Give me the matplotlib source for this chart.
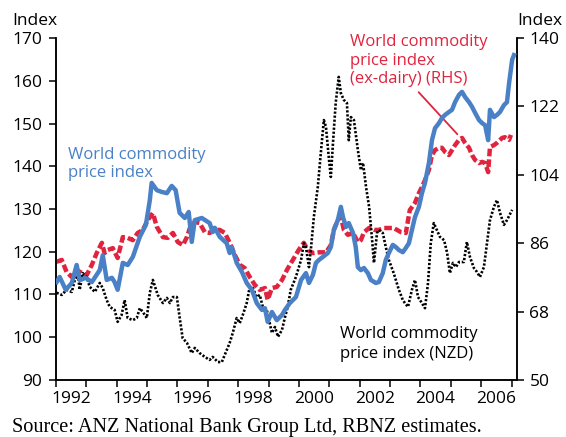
import matplotlib
matplotlib.use('Agg')
import matplotlib.pyplot as plt
import numpy as np

plt.rcParams['font.family'] = ['Open Sans', 'DejaVu Sans']
plt.rcParams['lines.scale_dashes'] = False

# World commodity price index (left axis)
wcpi_t = [1992.02, 1992.12, 1992.32, 1992.52, 1992.68, 1992.78, 1992.98, 1993.18, 1993.44, 1993.54,
          1993.67, 1993.84, 1993.93, 1994.03, 1994.20, 1994.36, 1994.53, 1994.76, 1994.96, 1995.09,
          1995.15, 1995.32, 1995.48, 1995.65, 1995.81, 1995.94, 1996.07, 1996.24, 1996.37, 1996.47,
          1996.57, 1996.80, 1997.06, 1997.16, 1997.23, 1997.39, 1997.62, 1997.72, 1997.79, 1997.95,
          1998.12, 1998.28, 1998.45, 1998.61, 1998.78, 1998.88, 1998.97, 1999.11, 1999.27, 1999.44,
          1999.54, 1999.70, 1999.90, 2000.07, 2000.23, 2000.33, 2000.46, 2000.56, 2000.66, 2000.79,
          2000.95, 2001.05, 2001.15, 2001.28, 2001.38, 2001.45, 2001.55, 2001.64, 2001.78, 2001.87,
          2001.94, 2002.04, 2002.14, 2002.27, 2002.37, 2002.53, 2002.63, 2002.76, 2002.86, 2002.96,
          2003.09, 2003.19, 2003.29, 2003.42, 2003.52, 2003.62, 2003.72, 2003.82, 2003.95, 2004.05,
          2004.15, 2004.28, 2004.38, 2004.48, 2004.61, 2004.71, 2004.81, 2004.94, 2005.04, 2005.14,
          2005.27, 2005.37, 2005.47, 2005.60, 2005.70, 2005.80, 2005.93, 2006.03, 2006.13, 2006.23,
          2006.29, 2006.42, 2006.52, 2006.62, 2006.75, 2006.85, 2006.92, 2007.02, 2007.08]
wcpi = [112.9, 114.1, 111.1, 112.7, 116.9, 113.4, 113.9, 112.9, 115.7, 119.2,
        113.4, 113.9, 112.9, 111.1, 117.4, 116.9, 118.8, 123.5, 126.3, 132.1,
        136.1, 134.4, 134.0, 133.7, 135.4, 134.4, 129.1, 127.9, 129.3, 122.3,
        127.4, 127.9, 126.7, 124.6, 125.6, 123.5, 122.0, 119.7, 121.1, 117.4,
        115.3, 112.7, 111.1, 108.0, 106.4, 106.8, 103.6, 105.9, 104.0, 105.2,
        106.4, 108.0, 109.4, 113.4, 115.0, 112.7, 114.6, 117.4, 118.1, 118.8,
        119.7, 121.1, 125.1, 127.4, 130.5, 128.1, 125.8, 126.7, 124.4, 121.1,
        116.4, 115.7, 116.2, 115.0, 113.4, 112.7, 112.9, 115.0, 118.1, 119.7,
        121.6, 121.1, 120.4, 119.9, 120.9, 122.0, 125.1, 128.1, 130.5, 133.7,
        136.1, 140.8, 146.1, 148.9, 150.1, 151.3, 152.0, 152.7, 153.2, 155.0,
        156.7, 157.4, 156.2, 155.0, 153.9, 152.5, 150.8, 150.1, 149.6, 146.1,
        153.2, 151.5, 152.0, 152.7, 154.3, 155.0, 159.5, 164.9, 166.0]

# World commodity price index ex-dairy (right axis)
exd_t = [1992.02, 1992.19, 1992.35, 1992.52, 1992.68, 1992.85, 1993.01, 1993.18, 1993.34, 1993.51,
         1993.60, 1993.70, 1993.87, 1994.03, 1994.20, 1994.36, 1994.53, 1994.69, 1994.86, 1995.02,
         1995.19, 1995.32, 1995.52, 1995.68, 1995.85, 1996.01, 1996.18, 1996.31, 1996.41, 1996.57,
         1996.73, 1996.90, 1997.06, 1997.23, 1997.39, 1997.56, 1997.72, 1997.89, 1998.05, 1998.21,
         1998.38, 1998.55, 1998.71, 1998.88, 1998.97, 1999.11, 1999.27, 1999.44, 1999.60, 1999.70,
         1999.80, 1999.99, 2000.16, 2000.29, 2000.46, 2000.66, 2000.89, 2001.05, 2001.15, 2001.28,
         2001.38, 2001.48, 2001.61, 2001.78, 2001.94, 2002.04, 2002.14, 2002.31, 2002.47, 2002.63,
         2002.80, 2002.96, 2003.12, 2003.36, 2003.52, 2003.65, 2003.82, 2003.95, 2004.05, 2004.15,
         2004.28, 2004.38, 2004.48, 2004.61, 2004.71, 2004.81, 2004.94, 2005.04, 2005.14, 2005.27,
         2005.37, 2005.47, 2005.60, 2005.70, 2005.80, 2005.93, 2006.03, 2006.13, 2006.23, 2006.29,
         2006.42, 2006.52, 2006.69, 2006.78, 2006.92, 2006.98]
exd = [81.1, 81.6, 78.4, 77.1, 78.9, 78.2, 77.6, 80.3, 83.4, 86.1,
       83.4, 84.2, 84.7, 82.1, 87.6, 87.4, 86.8, 88.7, 89.5, 92.1,
       93.9, 90.3, 87.6, 87.4, 88.7, 86.3, 85.5, 87.6, 90.0, 91.6,
       91.3, 88.9, 88.7, 89.5, 89.5, 88.7, 86.1, 82.9, 80.3, 79.5,
       77.1, 75.0, 73.7, 74.2, 71.1, 74.2, 74.5, 76.3, 78.9, 80.3,
       81.6, 84.2, 86.1, 84.2, 83.4, 83.6, 83.6, 85.5, 89.5, 92.1,
       92.9, 89.5, 88.2, 88.7, 86.3, 86.8, 88.9, 90.0, 89.5, 89.5,
       90.0, 90.0, 90.0, 88.9, 88.7, 94.7, 96.6, 99.2, 100.8, 102.6,
       105.3, 109.2, 110.5, 111.1, 111.1, 110.0, 109.2, 110.5, 111.8, 113.2,
       113.7, 112.4, 111.1, 109.2, 107.9, 107.1, 107.4, 107.1, 104.7, 111.3,
       111.8, 112.4, 113.7, 113.9, 113.2, 114.5]

# World commodity price index in NZD (left axis)
nzd_t = [1992.02, 1992.19, 1992.35, 1992.52, 1992.62, 1992.72, 1992.78, 1992.88, 1993.01, 1993.11,
         1993.28, 1993.44, 1993.54, 1993.67, 1993.77, 1993.93, 1994.03, 1994.16, 1994.26, 1994.36,
         1994.53, 1994.66, 1994.76, 1994.86, 1994.99, 1995.09, 1995.19, 1995.35, 1995.52, 1995.65,
         1995.75, 1995.85, 1995.98, 1996.07, 1996.17, 1996.31, 1996.47, 1996.57, 1996.73, 1996.90,
         1997.06, 1997.16, 1997.33, 1997.46, 1997.62, 1997.72, 1997.82, 1997.95, 1998.05, 1998.15,
         1998.28, 1998.38, 1998.48, 1998.61, 1998.71, 1998.81, 1998.94, 1999.11, 1999.21, 1999.31,
         1999.44, 1999.54, 1999.63, 1999.73, 1999.90, 2000.07, 2000.16, 2000.23, 2000.33, 2000.40,
         2000.49, 2000.62, 2000.72, 2000.82, 2000.89, 2000.99, 2001.05, 2001.12, 2001.21, 2001.31,
         2001.38, 2001.48, 2001.58, 2001.64, 2001.71, 2001.81, 2001.94, 2002.04, 2002.11, 2002.21,
         2002.31, 2002.40, 2002.47, 2002.57, 2002.63, 2002.76, 2002.86, 2002.96, 2003.12, 2003.29,
         2003.42, 2003.49, 2003.59, 2003.72, 2003.82, 2003.92, 2004.05, 2004.15, 2004.25, 2004.34,
         2004.44, 2004.54, 2004.64, 2004.78, 2004.88, 2004.97, 2005.07, 2005.17, 2005.27, 2005.43,
         2005.53, 2005.63, 2005.76, 2005.86, 2005.96, 2006.09, 2006.19, 2006.29, 2006.42, 2006.52,
         2006.62, 2006.75, 2006.85, 2007.02]
nzd = [110.4, 109.9, 111.1, 110.6, 113.4, 114.6, 111.1, 115.0, 114.1, 111.8,
       110.6, 112.7, 111.5, 108.7, 107.1, 106.4, 103.6, 105.2, 108.7, 104.5,
       104.0, 104.5, 106.8, 105.9, 104.5, 110.4, 113.4, 109.9, 108.0, 109.2,
       108.0, 109.4, 109.4, 104.7, 99.8, 98.7, 96.3, 97.5, 96.3, 95.4,
       94.7, 95.4, 94.2, 94.2, 97.0, 98.7, 101.0, 104.5, 103.3, 105.2,
       108.0, 111.8, 111.5, 109.4, 109.9, 107.1, 106.4, 101.0, 102.4, 100.1,
       101.7, 104.7, 107.1, 111.1, 114.1, 118.1, 122.0, 121.1, 116.4, 121.1,
       128.1, 135.1, 143.1, 150.8, 149.2, 141.5, 137.5, 145.4, 154.8, 160.9,
       157.1, 155.5, 154.8, 146.1, 151.5, 150.8, 143.8, 139.1, 140.8, 135.1,
       130.5, 123.5, 117.4, 124.4, 125.1, 124.4, 121.1, 118.1, 115.0, 111.1,
       108.7, 108.0, 107.1, 111.1, 113.4, 109.4, 108.0, 106.8, 112.7, 122.0,
       126.7, 125.1, 123.5, 122.7, 119.7, 115.0, 117.4, 116.4, 117.6, 117.6,
       122.3, 118.8, 116.2, 115.3, 114.1, 116.4, 122.0, 127.4, 130.5, 132.1,
       129.1, 126.3, 127.4, 129.8]

year_ticks = list(range(1992, 2008))
year_labels = ['1992', '1994', '1996', '1998', '2000', '2002', '2004', '2006']
left_ticks = [90, 100, 110, 120, 130, 140, 150, 160, 170]
right_ticks = [50, 68, 86, 104, 122, 140]

BLUE = '#4a80c6'
RED = '#e2233e'
W, H = 566, 437

fig = plt.figure(figsize=(W / 100, H / 100), dpi=100)
ax = fig.add_axes([56 / W, 1 - 380 / H, (517 - 56) / W, (380 - 38) / H])
ax2 = ax.twinx()

ax.plot(nzd_t, nzd, color='black', lw=1.9, dashes=(1.6, 1.3), zorder=2)
ax2.plot(exd_t, exd, color=RED, lw=3.2, dashes=(5.5, 2.2), zorder=3)
ax.plot(wcpi_t, wcpi, color=BLUE, lw=3.2, zorder=4)

ax.set_zorder(ax2.get_zorder() + 1)
ax.patch.set_visible(False)

ax.set_xlim(1992, 2007.18)
ax.set_ylim(90, 170)
ax2.set_ylim(50, 140)
ax.set_yticks(left_ticks)
ax2.set_yticks(right_ticks)

ax.set_xticks(year_ticks)
ax.set_xticklabels([])
ax.set_xticks([int(y) + 0.5 for y in year_labels], minor=True)
ax.set_xticklabels(year_labels, minor=True)
ax.tick_params(axis='x', which='major', direction='out', length=5, width=1.1)
ax.tick_params(axis='x', which='minor', length=0, pad=8, labelsize=12.5)
ax.tick_params(axis='y', direction='out', length=5, width=1.1, pad=5, labelsize=12.5)
ax2.tick_params(axis='y', direction='out', length=5, width=1.1, pad=4, labelsize=12.5)

for a in (ax, ax2):
    a.spines['top'].set_visible(False)
    for s in ('left', 'right', 'bottom'):
        a.spines[s].set_linewidth(1.1)

fs = 12
fig.text(12 / W, 1 - 25 / H, 'Index', fontsize=12.5, va='baseline')
fig.text(517 / W, 1 - 25 / H, 'Index', fontsize=12.5, va='baseline')

fig.text(68 / W, 1 - 159 / H, 'World commodity', fontsize=fs, color=BLUE, va='baseline')
fig.text(68 / W, 1 - 177 / H, 'price index', fontsize=fs, color=BLUE, va='baseline')

fig.text(350 / W, 1 - 46 / H, 'World commodity', fontsize=fs, color=RED, va='baseline')
fig.text(350 / W, 1 - 65 / H, 'price index', fontsize=fs, color=RED, va='baseline')
fig.text(350 / W, 1 - 83 / H, '(ex-dairy) (RHS)', fontsize=fs, color=RED, va='baseline')
ax.annotate('', xy=(2005.28, 147), xytext=(2003.88, 157.8),
            arrowprops=dict(arrowstyle='-', color=RED, lw=1.3))

fig.text(340 / W, 1 - 338 / H, 'World commodity', fontsize=fs, va='baseline')
fig.text(340 / W, 1 - 358 / H, 'price index (NZD)', fontsize=fs, va='baseline')

fig.text(12 / W, 1 - 432 / H, 'Source: ANZ National Bank Group Ltd, RBNZ estimates.',
         fontsize=14.6, family='Liberation Serif', va='baseline')

fig.savefig('out.png', dpi=100)
